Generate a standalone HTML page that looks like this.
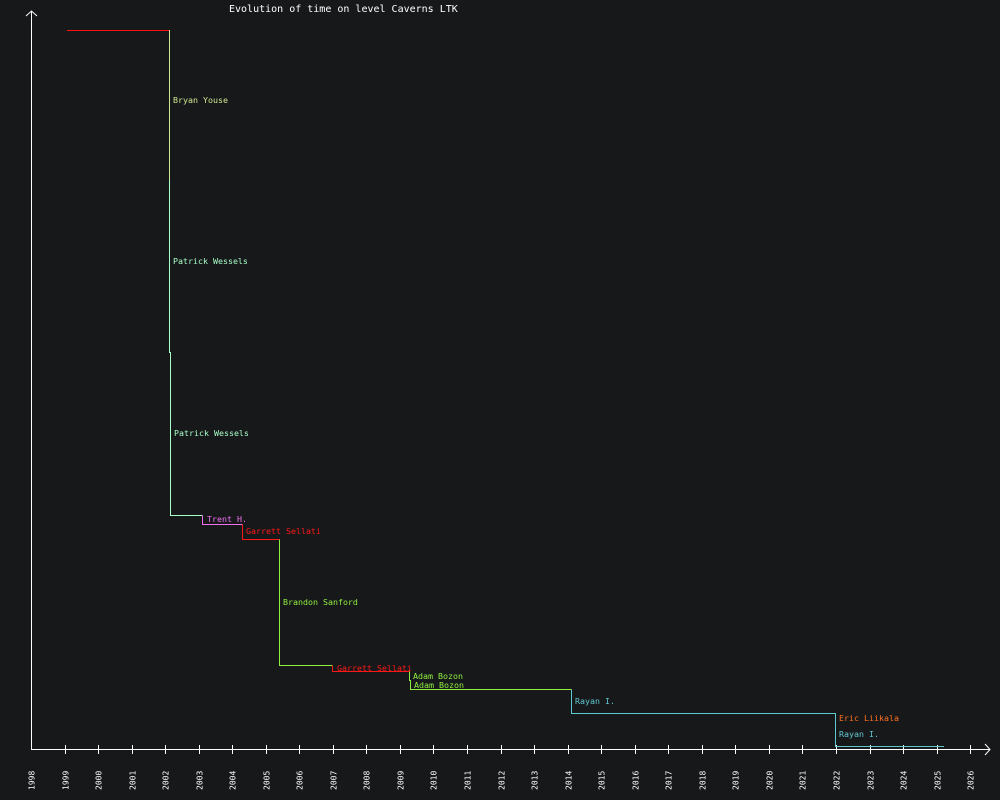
<!DOCTYPE html>
<html><head><style>
html,body{margin:0;padding:0;background:#17181a;}
svg{display:block}
text{font-family:"DejaVu Sans Mono","Liberation Mono",monospace;font-size:8.3px;}
</style></head><body>
<svg width="1000" height="800" viewBox="0 0 1000 800" xmlns="http://www.w3.org/2000/svg" shape-rendering="crispEdges">
<rect width="1000" height="800" fill="#17181a"/>
<text x="229" y="12" fill="#ffffff" style="font-size:10px">Evolution of time on level Caverns LTK</text>
<g stroke="#ffffff" stroke-width="1" fill="none">
<line x1="31.5" y1="11" x2="31.5" y2="749"/>
<polyline points="26,16 31.5,11 37,16" shape-rendering="auto"/>
<line x1="31" y1="749.5" x2="990" y2="749.5"/>
<polyline points="985,744 990,749.5 985,755" shape-rendering="auto"/>
</g>
<g id="ticks" stroke="#ffffff" stroke-width="1"></g>
<g id="labels" fill="#ffffff"></g>
<g fill="none" stroke-width="1">
<line x1="67" y1="30.5" x2="169.5" y2="30.5" stroke="#ff1010"/>
<line x1="169.5" y1="30" x2="169.5" y2="180" stroke="#d0e890"/>
<polyline points="169.5,180 169.5,352.5 170.5,352.5 170.5,515.5 202.5,515.5" stroke="#a8ffc8"/>
<polyline points="202.5,515.5 202.5,524.5 242.5,524.5" stroke="#f070f0"/>
<polyline points="242.5,524.5 242.5,539.5 279.5,539.5" stroke="#ff1818"/>
<polyline points="279.5,539.5 279.5,665.5 332.5,665.5" stroke="#90f040"/>
<polyline points="332.5,665.5 332.5,671.5 409.5,671.5" stroke="#ff1818"/>
<polyline points="409.5,671.5 409.5,680.5 410.5,680.5 410.5,689.5 571.5,689.5" stroke="#90f040"/>
<polyline points="571.5,689.5 571.5,713.5 835.5,713.5 835.5,746.5 944,746.5" stroke="#60c8d0"/>
</g>
<text x="173" y="103" fill="#d0e890">Bryan Youse</text>
<text x="173" y="264" fill="#a8ffc8">Patrick Wessels</text>
<text x="174" y="436" fill="#a8ffc8">Patrick Wessels</text>
<text x="207" y="522" fill="#f070f0">Trent H.</text>
<text x="246" y="534" fill="#ff1818">Garrett Sellati</text>
<text x="283" y="605" fill="#90f040">Brandon Sanford</text>
<text x="337" y="671" fill="#ff1818">Garrett Sellati</text>
<text x="413" y="679" fill="#90f040">Adam Bozon</text>
<text x="414" y="688" fill="#90f040">Adam Bozon</text>
<text x="575" y="704" fill="#60c8d0">Rayan I.</text>
<text x="839" y="721" fill="#ff7020">Eric Liikala</text>
<text x="839" y="737" fill="#60c8d0">Rayan I.</text>
<script>
var t=document.getElementById('ticks'),l=document.getElementById('labels'),ns='http://www.w3.org/2000/svg';
for(var i=0;i<=28;i++){var x=Math.round(31+i*33.54)+0.5;
if(i>0){var ln=document.createElementNS(ns,'line');ln.setAttribute('x1',x);ln.setAttribute('x2',x);ln.setAttribute('y1',745);ln.setAttribute('y2',754);t.appendChild(ln);}
var tx=document.createElementNS(ns,'text');tx.setAttribute('transform','translate('+(x+3)+',790) rotate(-90)');tx.setAttribute('style','font-size:8px');tx.textContent=1998+i;l.appendChild(tx);}
</script>
</svg>
</body></html>
